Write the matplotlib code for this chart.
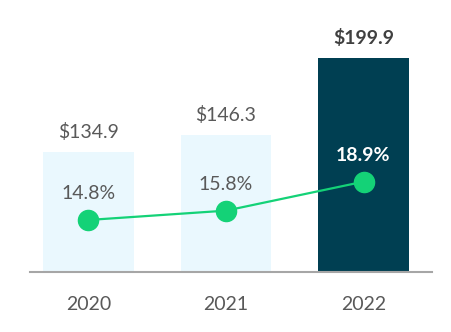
import matplotlib
matplotlib.use("Agg")
import matplotlib.pyplot as plt
import numpy as np

plt.rcParams['font.family'] = ['Lato', 'DejaVu Sans']

years = ['2020', '2021', '2022']
revenue = [134.9, 146.3, 199.9]
margin = [14.8, 15.8, 18.9]

bar_colors = ['#eaf8fe', '#eaf8fe', '#003f52']
text_gray = '#595959'

fig = plt.figure(figsize=(4.52, 3.32), dpi=100)
ax = fig.add_axes([30 / 452, 60 / 332, 402 / 452, 232 / 332])
x = np.arange(len(years))

ax.bar(x, revenue, width=0.66, color=bar_colors, zorder=1)
ax.set_xlim(-0.425, 2.498)
ax.set_ylim(51.9, 212.3)

for i, v in enumerate(revenue):
    last = i == len(revenue) - 1
    ax.annotate(f'${v:.1f}', (x[i], v), xytext=(0, 8),
                textcoords='offset points', ha='center', va='bottom',
                fontsize=14, color='#404040' if last else text_gray,
                fontweight='bold' if last else 'normal')

# margin line on a second scale
ax2 = ax.twinx()
ax2.set_ylim(9.23, 34.07)
ax2.plot(x, margin, color='#14d277', lw=1.6, marker='o', markersize=14.5,
         zorder=3)
for i, m in enumerate(margin):
    last = i == len(margin) - 1
    ax2.annotate(f'{m:.1f}%', (x[i], m), xytext=(0, 13),
                 textcoords='offset points', ha='center', va='bottom',
                 fontsize=14, color='white' if last else text_gray,
                 fontweight='bold' if last else 'normal')

for a in (ax, ax2):
    for side in ('top', 'right', 'left'):
        a.spines[side].set_visible(False)
    a.set_yticks([])
ax.spines['bottom'].set_color('#a6a6a6')
ax.spines['bottom'].set_linewidth(1.5)
ax2.spines['bottom'].set_visible(False)

ax.set_xticks(x)
ax.set_xticklabels(years, fontsize=14, color=text_gray)
ax.tick_params(axis='x', length=0, pad=17)

fig.savefig('out.png', dpi=100)
